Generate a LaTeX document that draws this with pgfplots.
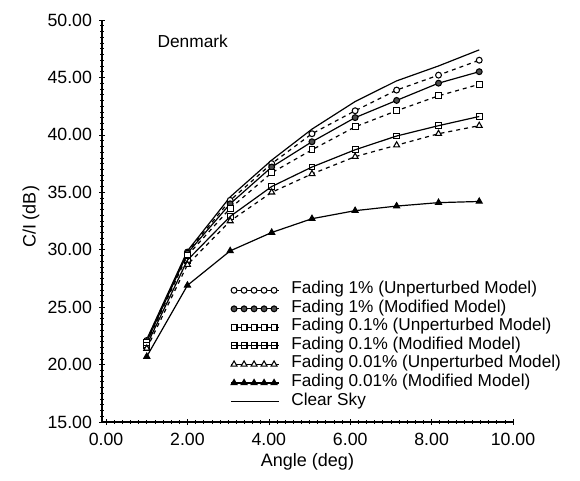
\documentclass[border=0pt]{standalone}
\usepackage{fontspec}
\setmainfont{Liberation Sans}
\usepackage{pgfplots}
\pgfplotsset{compat=1.18}
\begin{document}
\begin{tikzpicture}
\useasboundingbox (0,0) rectangle (435pt,360pt);
\begin{axis}[
  at={(76.5pt,43.5pt)}, anchor=south west,
  scale only axis, width=308.25pt, height=301.5pt,
  xmin=-0.1, xmax=10, ymin=15, ymax=50,
  axis lines=left, axis line style={-, line width=0.8pt},
  xtick={0,2,...,10}, ytick={15,20,...,50},
  minor x tick num=9, minor y tick num=9,
  tick style={black, line width=0.5pt},
  major tick length=4pt, minor tick length=2.5pt,
  ticklabel style={font=\fontsize{13.3}{15}\selectfont},
  yticklabel style={xshift=-2pt},
  xticklabel style={yshift=-3pt},
  /pgf/number format/.cd, fixed, fixed zerofill, precision=2, assume math mode=true,
  /pgfplots/.cd,
  xlabel={Angle (deg)}, ylabel={C/I (dB)},
  label style={font=\fontsize{13.5}{15}\selectfont},
  x label style={at={(axis description cs:0.5,-0.1)}, anchor=center},
  y label style={at={(axis description cs:-0.173,0.51)}, anchor=center, rotate=0},
  legend style={at={(0.303,0.358)}, anchor=north west, draw=none, fill=none,
    font=\fontsize{12.9}{14}\selectfont, row sep=0pt,
    nodes={inner sep=0pt, text height=9.6pt, text depth=4.3pt},
    /tikz/every odd column/.append style={column sep=8.5pt}},
  legend cell align=left,
  legend image code/.code={
    \draw[#1, solid] (0pt,0pt) -- (36pt,0pt);
    \path[#1, solid] plot[only marks] coordinates {(2pt,0pt)(9.5pt,0pt)(17pt,0pt)(24.5pt,0pt)(32pt,0pt)};
  },
  every axis plot/.append style={black, line width=0.9pt},
]
% Fading 1% Unperturbed
\addplot[dashed, dash pattern=on 3pt off 3pt, mark=*, mark size=2.2pt, mark options={solid, fill=white, line width=0.8pt}] coordinates {
(1,22.1)(2,29.8)(3.05,34.3)(4.07,37.5)(5.06,40.1)(6.12,42.1)(7.14,43.9)(8.17,45.2)(9.17,46.5)};
\addlegendentry{Fading 1\% (Unperturbed Model)}
% Fading 1% Modified
\addplot[solid, mark=*, mark size=2.2pt, mark options={solid, fill=black!70, line width=0.8pt}] coordinates {
(1,22.0)(2,29.7)(3.05,34.0)(4.07,37.2)(5.06,39.4)(6.12,41.5)(7.14,43.0)(8.17,44.5)(9.17,45.5)};
\addlegendentry{Fading 1\% (Modified Model)}
% Fading 0.1% Unperturbed
\addplot[dashed, dash pattern=on 3pt off 3pt, mark=square*, mark size=2.2pt, mark options={solid, fill=white, line width=0.8pt}] coordinates {
(1,21.9)(2,29.5)(3.05,33.6)(4.07,36.7)(5.06,38.7)(6.12,40.7)(7.14,42.1)(8.17,43.4)(9.17,44.4)};
\addlegendentry{Fading 0.1\% (Unperturbed Model)}
% Fading 0.1% Modified
\addplot[solid, mark=square, mark size=2.2pt, mark options={solid, line width=0.8pt}] coordinates {
(1,21.7)(2,29.1)(3.05,32.9)(4.07,35.5)(5.06,37.2)(6.12,38.7)(7.14,39.9)(8.17,40.8)(9.17,41.6)};
\addlegendentry{Fading 0.1\% (Modified Model)}
% Fading 0.01% Unperturbed
\addplot[dashed, dash pattern=on 3pt off 3pt, mark=triangle*, mark size=2.6pt, mark options={solid, fill=white, line width=0.8pt}] coordinates {
(1,21.4)(2,28.7)(3.05,32.5)(4.07,35.0)(5.06,36.6)(6.12,38.1)(7.14,39.1)(8.17,40.1)(9.17,40.8)};
\addlegendentry{Fading 0.01\% (Unperturbed Model)}
% Fading 0.01% Modified
\addplot[solid, mark=triangle*, mark size=2.6pt, mark options={solid, fill=black, line width=0.8pt}] coordinates {
(1,20.7)(2,26.9)(3.05,29.9)(4.07,31.5)(5.06,32.7)(6.12,33.4)(7.14,33.8)(8.17,34.1)(9.17,34.2)};
\addlegendentry{Fading 0.01\% (Modified Model)}
% Clear Sky
\addplot[solid, mark=none] coordinates {
(1,22.2)(2,29.9)(3.05,34.6)(4.07,37.8)(5.06,40.5)(6.12,42.9)(7.14,44.7)(8.17,46.0)(9.17,47.4)};
\addlegendentry{Clear Sky}
\node[anchor=west, font=\fontsize{13}{15}\selectfont] at (axis cs:1.15,48.16) {Denmark};
\end{axis}
\end{tikzpicture}
\end{document}
